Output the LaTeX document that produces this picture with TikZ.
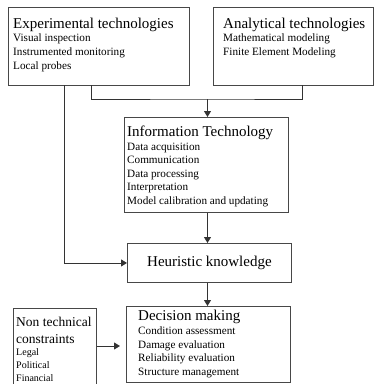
\documentclass[tikz,border=0pt]{standalone}
\usepackage{fontspec}
\setmainfont{Liberation Serif}
\usetikzlibrary{arrows.meta}
\newcommand{\ttl}{\fontsize{15}{17}\selectfont}
\newcommand{\itm}{\fontsize{11.2}{13}\selectfont}
\newcommand{\ntl}{\fontsize{13.5}{15}\selectfont}
\newcommand{\nit}{\fontsize{10}{12}\selectfont}
\begin{document}
\begin{tikzpicture}[x=1pt,y=-1pt,
  frame/.style={draw=black!72,line width=0.9pt,inner sep=0pt,anchor=north west},
  txt/.style={inner sep=0pt,anchor=base west,text=black},
  link/.style={draw=black!80,line width=0.9pt},
  arr/.style={link,-{Triangle[length=6pt,width=7pt]}}]
\useasboundingbox (0,0) rectangle (378,384);

% boxes
\node[frame,minimum width=181pt,minimum height=78pt] (exp) at (8,7) {};
\node[frame,minimum width=160pt,minimum height=78pt] (ana) at (213,7) {};
\node[frame,minimum width=164pt,minimum height=95pt] (info) at (124,117) {};
\node[frame,minimum width=164pt,minimum height=39pt] (heur) at (127,243) {};
\node[frame,minimum width=164pt,minimum height=76pt] (dec) at (126,306) {};
\node[frame,minimum width=83pt,minimum height=80pt] (nt) at (13,308) {};

% box texts
\node[txt] (exptxt) at (13,28) {\vtop{\baselineskip=13.8pt
  \hbox{\ttl Experimental technologies}
  \hbox{\itm Visual inspection}
  \hbox{\itm Instrumented monitoring}
  \hbox{\itm Local probes}}};
\node[txt] (anatxt) at (223,28) {\vtop{\baselineskip=13.8pt
  \hbox{\ttl Analytical technologies}
  \hbox{\itm Mathematical modeling}
  \hbox{\itm Finite Element Modeling}}};
\node[txt] (infotxt) at (127,136.5) {\vtop{\baselineskip=13.6pt
  \hbox{\ttl Information Technology}
  \hbox{\itm Data acquisition}
  \hbox{\itm Communication}
  \hbox{\itm Data processing}
  \hbox{\itm Interpretation}
  \hbox{\itm Model calibration and updating}}};
\node[inner sep=0pt,font=\ttl] (heurtxt) at (heur.center) {Heuristic knowledge};
\node[txt] (dectxt) at (138,320.5) {\vtop{\baselineskip=13.8pt
  \hbox{\ttl Decision making}
  \hbox{\itm Condition assessment}
  \hbox{\itm Damage evaluation}
  \hbox{\itm Reliability evaluation}
  \hbox{\itm Structure management}}};
\node[txt] (nttxt) at (16,326) {\vtop{\baselineskip=12.8pt
  \hbox{\ntl Non technical}
  \hbox{\vrule width0pt height16pt\ntl constraints}
  \hbox{\nit Legal}
  \hbox{\nit Political}
  \hbox{\nit Financial}}};

% connectors
\coordinate (expout) at (91,85);
\coordinate (anaout) at (302,85);
\coordinate (merge) at (207.5,99);
\coordinate (expside) at (64,85);
\draw[link] (expout) |- (merge) -| (anaout);
\draw[arr] (merge) -- (info.north -| merge);
\draw[arr] (expside) |- (heur.west);
\draw[arr] (info.south -| merge) -- (heur.north -| merge);
\draw[arr] (heur.south -| merge) -- (dec.north -| merge);
\draw[arr,shorten >=6pt] (nt.east |- 0,346) -- (dec.west |- 0,346);
\end{tikzpicture}
\end{document}
